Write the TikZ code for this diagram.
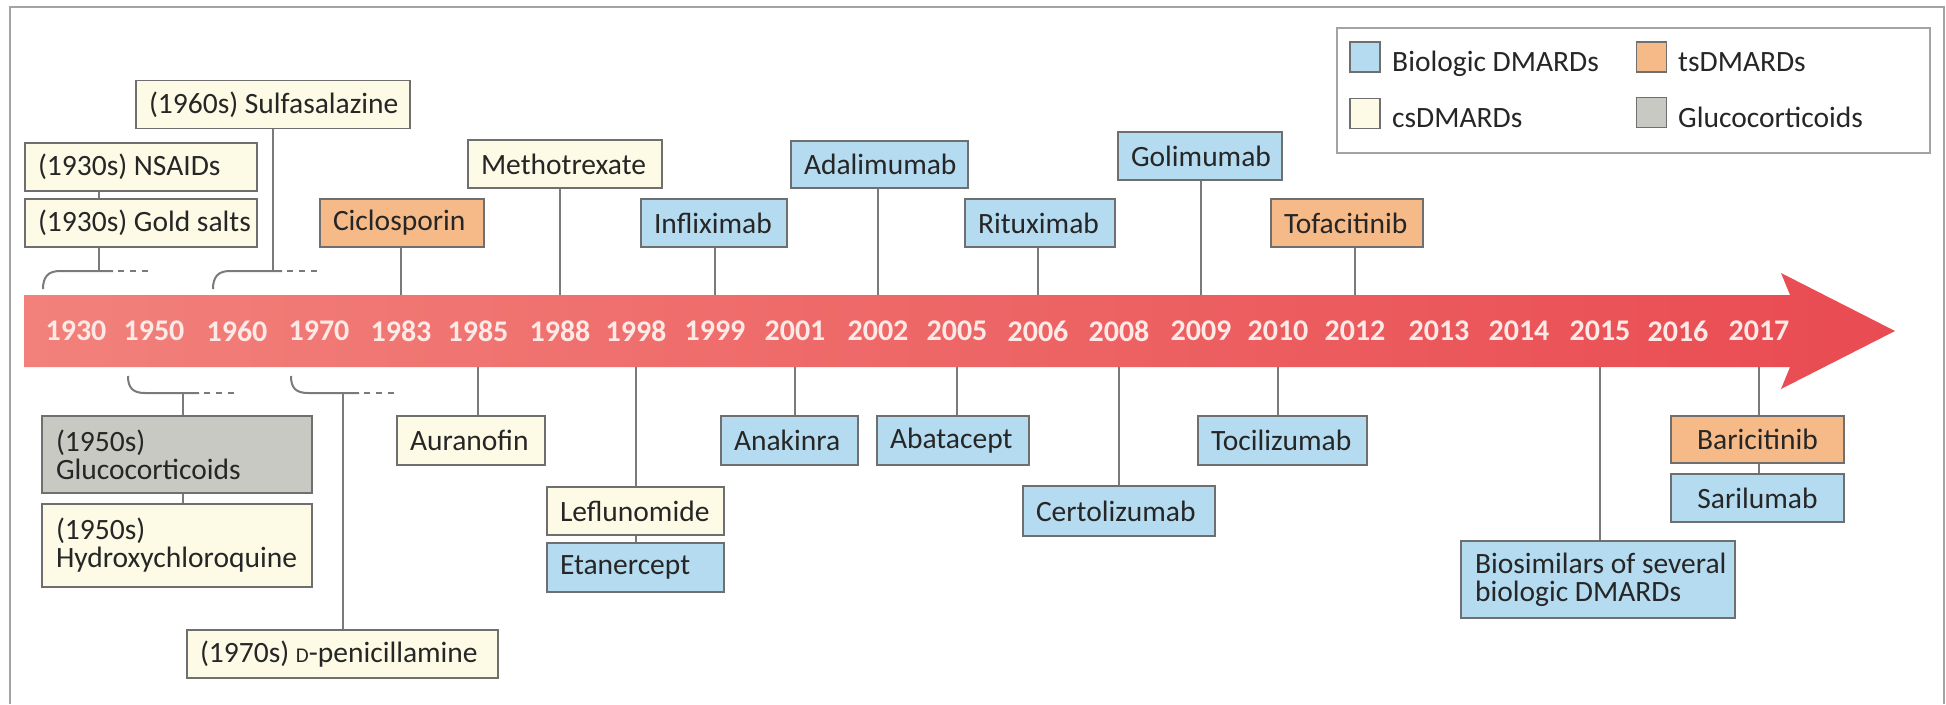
\documentclass[tikz,border=0pt]{standalone}
\usepackage{fontspec}
\setmainfont{Carlito}
\definecolor{bio}{HTML}{B4DBEF}
\definecolor{tsc}{HTML}{F5BA88}
\definecolor{csc}{HTML}{FDFBE6}
\definecolor{gcc}{HTML}{C9C9C4}
\definecolor{edgec}{HTML}{6F6F6F}
\definecolor{linec}{HTML}{7A7A7A}
\definecolor{txtc}{HTML}{262626}
\definecolor{bandL}{HTML}{F2817B}
\definecolor{bandR}{HTML}{E94B52}
\definecolor{yrtxt}{HTML}{FDEAE6}
\definecolor{framec}{HTML}{A3A3A3}
\tikzset{
  drug/.style={draw=edgec, line width=1.6pt, text=txtc, font=\fontsize{29.5}{28}\selectfont,
    inner sep=0pt, inner xsep=13pt, minimum height=48pt, align=flush left},
  conn/.style={draw=linec, line width=2pt},
  dots/.style={draw=linec, line width=2pt, dash pattern=on 6pt off 6pt},
  yearlbl/.style={text=yrtxt, font=\bfseries\fontsize{30}{30}\selectfont, inner sep=0pt},
  swatch/.style={draw=edgec, line width=1.6pt, minimum size=30pt, inner sep=0pt},
  legtext/.style={text=txtc, font=\fontsize{29.5}{28}\selectfont, inner sep=0pt, anchor=base west}
}
\begin{document}
\begin{tikzpicture}[x=1pt,y=-1pt]
\useasboundingbox (0,0) rectangle (1946,704);
\fill[white] (0,0) rectangle (1946,704);
% frame
\draw[framec, line width=2pt] (10,704) -- (10,7) -- (1944,7) -- (1944,704);

% timeline arrow
\shade[left color=bandL, right color=bandR] (24,295) -- (1790,295) -- (1781,273) -- (1895,331) -- (1781,389) -- (1790,367) -- (24,367) -- cycle;
\coordinate (bandtop) at (0,295);
\coordinate (bandbot) at (0,367);

\foreach \xx/\yy in {76/1930,154/1950,237/1960,319/1970,401/1983,478/1985,560/1988,636/1998,715/1999,795/2001,878/2002,957/2005,1038/2006,1119/2008,1201/2009,1278/2010,1355/2012,1439/2013,1519/2014,1600/2015,1678/2016,1759/2017}
  \node[yearlbl] (yr\yy) at (\xx,331) {\yy};

% legend
\node[draw=framec, line width=2pt, minimum width=593pt, minimum height=125pt, inner sep=0pt] (legend) at (1633.5,90.5) {};
\node[swatch, fill=bio] (sw1) at (1365,57) {};
\node[legtext] (lt1) at (1392,71) {Biologic DMARDs};
\node[swatch, fill=tsc] (sw2) at (1651.5,57) {};
\node[legtext] (lt2) at (1678,71) {tsDMARDs};
\node[swatch, fill=csc] (sw3) at (1365,113.5) {};
\node[legtext] (lt3) at (1392,127) {csDMARDs};
\node[swatch, fill=gcc] (sw4) at (1651.5,112.5) {};
\node[legtext] (lt4) at (1678,127) {Glucocorticoids};

% top boxes
\node[drug, fill=csc, text width=248pt] (sulfa) at (273,104.5) {\mbox{(1960s) Sulfasalazine}};
\node[drug, fill=csc, text width=206pt] (nsaid) at (141,167) {\mbox{(1930s) NSAIDs}};
\node[drug, fill=csc, text width=206pt] (gold) at (141,223) {\mbox{(1930s) Gold salts}};
\node[drug, fill=tsc, text width=138pt] (cyclo) at (402,223) {Ciclosporin};
\node[drug, fill=csc, text width=168pt] (mtx) at (565,164) {Methotrexate};
\node[drug, fill=bio, text width=120pt] (infl) at (714,223) {Infliximab};
\node[drug, fill=bio, text width=151pt, minimum height=47pt] (adal) at (879.5,164.5) {Adalimumab};
\node[drug, fill=bio, text width=124pt] (ritu) at (1040,223) {Rituximab};
\node[drug, fill=bio, text width=138pt] (goli) at (1200,156) {Golimumab};
\node[drug, fill=tsc, text width=126pt] (tofa) at (1347,223) {Tofacitinib};

% bottom boxes
\node[drug, fill=gcc, text width=242pt, inner xsep=14pt, minimum height=77pt] (gluco) at (177,454.5) {(1950s)\\Glucocorticoids};
\node[drug, fill=csc, text width=242pt, inner xsep=14pt, minimum height=83pt] (hcq) at (177,545.5) {(1950s)\\Hydroxychloroquine};
\node[drug, fill=csc, text width=285pt] (dpen) at (342.5,654) {\mbox{(1970s) {\fontsize{21}{21}\selectfont D}-penicillamine}};
\node[drug, fill=csc, text width=122pt, minimum height=49pt] (aura) at (471,440.5) {Auranofin};
\node[drug, fill=csc, text width=151pt] (lef) at (635.5,511) {Leflunomide};
\node[drug, fill=bio, text width=151pt, minimum height=49pt] (etan) at (635.5,567.5) {Etanercept};
\node[drug, fill=bio, text width=111pt, minimum height=49pt] (anak) at (789.5,440.5) {Anakinra};
\node[drug, fill=bio, text width=126pt, minimum height=49pt] (abat) at (953,440.5) {Abatacept};
\node[drug, fill=bio, text width=166pt, minimum height=50pt] (cert) at (1119,511) {Certolizumab};
\node[drug, fill=bio, text width=143pt, minimum height=49pt] (toci) at (1282.5,440.5) {Tocilizumab};
\node[drug, fill=bio, text width=246pt, inner xsep=14pt, minimum height=77pt] (bios) at (1598,579.5) {\mbox{Biosimilars of several}\\\mbox{biologic DMARDs}};
\node[drug, fill=tsc, text width=147pt, minimum height=47pt, align=center] (bari) at (1757.5,439.5) {Baricitinib};
\node[drug, fill=bio, text width=147pt, align=center] (sari) at (1757.5,498) {Sarilumab};

% top connectors
\draw[conn] (cyclo.south -| yr1983) -- (bandtop -| yr1983);
\draw[conn] (mtx.south -| yr1988) -- (bandtop -| yr1988);
\draw[conn] (infl.south -| yr1999) -- (bandtop -| yr1999);
\draw[conn] (adal.south -| yr2002) -- (bandtop -| yr2002);
\draw[conn] (ritu.south -| yr2006) -- (bandtop -| yr2006);
\draw[conn] (goli.south -| yr2009) -- (bandtop -| yr2009);
\draw[conn] (tofa.south -| yr2012) -- (bandtop -| yr2012);

% bottom connectors
\draw[conn] (bandbot -| yr1985) -- (aura.north -| yr1985);
\draw[conn] (bandbot -| yr1998) -- (lef.north -| yr1998);
\draw[conn] (lef.south -| yr1998) -- (etan.north -| yr1998);
\draw[conn] (bandbot -| yr2001) -- (anak.north -| yr2001);
\draw[conn] (bandbot -| yr2005) -- (abat.north -| yr2005);
\draw[conn] (bandbot -| yr2008) -- (cert.north -| yr2008);
\draw[conn] (bandbot -| yr2010) -- (toci.north -| yr2010);
\draw[conn] (bandbot -| yr2015) -- (bios.north -| yr2015);
\draw[conn] (bandbot -| yr2017) -- (bari.north -| yr2017);
\draw[conn] (bari.south -| yr2017) -- (sari.north -| yr2017);

% brackets (decades)
\coordinate (b1) at (99,271);
\draw[conn] (43,289) .. controls (43,277) and (48,271) .. (60,271) -- (113,271);
\draw[dots] (118,271) -- (148,271);
\draw[conn] (nsaid.south -| b1) -- (gold.north -| b1);
\draw[conn] (gold.south -| b1) -- (b1);

\coordinate (b2) at (273,271);
\draw[conn] (213,289) .. controls (213,277) and (218,271) .. (230,271) -- (282,271);
\draw[dots] (287,271) -- (317,271);
\draw[conn] (sulfa.south -| b2) -- (b2);

\coordinate (b3) at (183,393);
\draw[conn] (128,376) .. controls (128,388) and (133,393) .. (145,393) -- (199,393);
\draw[dots] (204,393) -- (234,393);
\draw[conn] (b3) -- (gluco.north -| b3);
\draw[conn] (gluco.south -| b3) -- (hcq.north -| b3);

\coordinate (b4) at (343,393);
\draw[conn] (291,376) .. controls (291,388) and (296,393) .. (308,393) -- (359,393);
\draw[dots] (364,393) -- (394,393);
\draw[conn] (b4) -- (dpen.north -| b4);
\end{tikzpicture}
\end{document}
